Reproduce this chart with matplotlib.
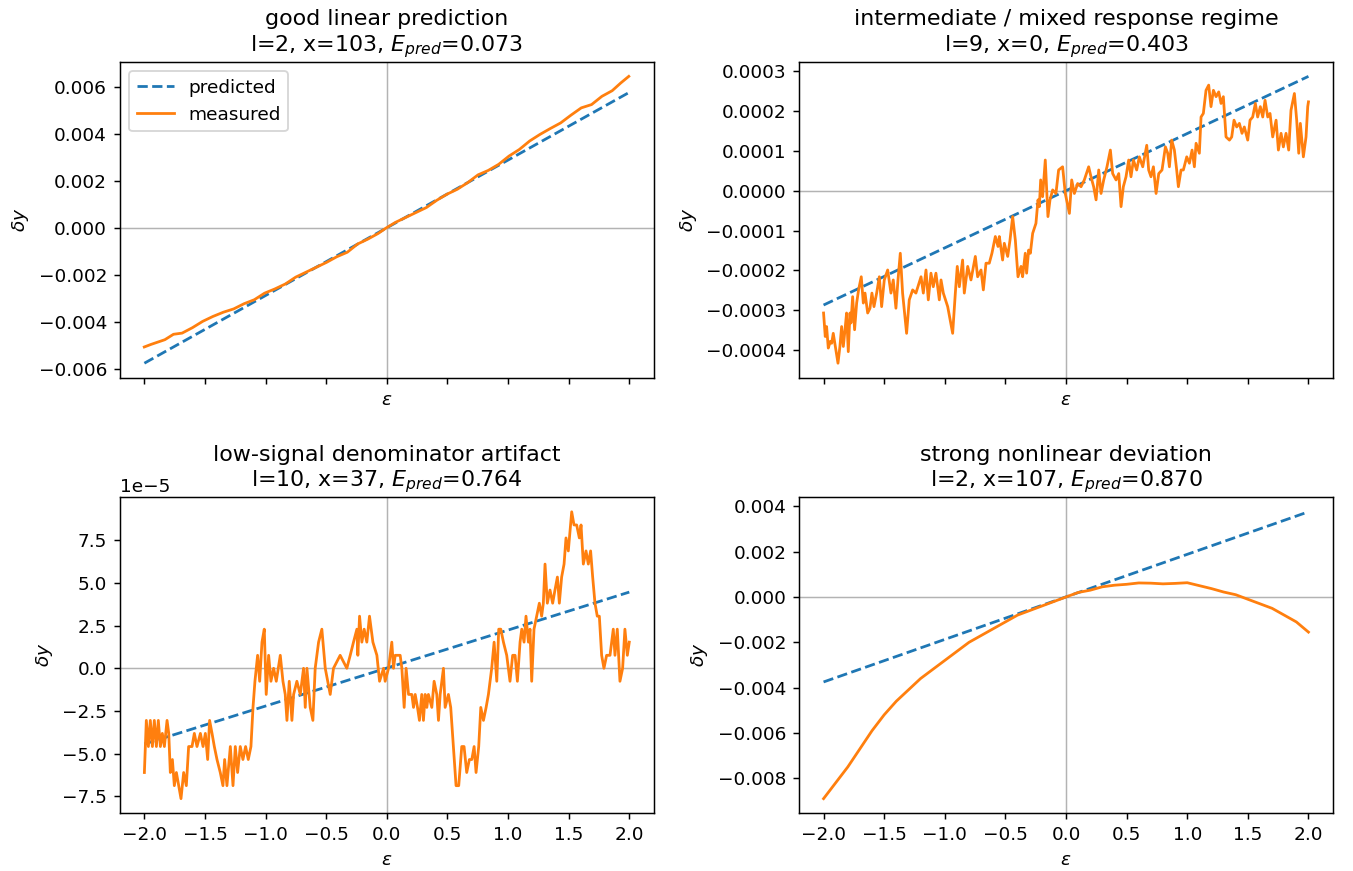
import numpy as np
import matplotlib
matplotlib.use("Agg")
import matplotlib.pyplot as plt

# ---- data ----
titles = [
    "good linear prediction\nl=2, x=103, $E_{pred}$=0.073",
    "intermediate / mixed response regime\nl=9, x=0, $E_{pred}$=0.403",
    "low-signal denominator artifact\nl=10, x=37, $E_{pred}$=0.764",
    "strong nonlinear deviation\nl=2, x=107, $E_{pred}$=0.870",
]

pred_eps = [-2.0, 2.0]
tl_pred = [-0.00576, 0.00576]
tr_pred = [-2.87e-4, 2.87e-4]
bl_pred = [-4.43e-5, 4.46e-5]
br_pred = [-0.00375, 0.00376]

# top-left: good linear
tl_eps = [-2.001, -1.945, -1.888, -1.831, -1.760, -1.689, -1.604, -1.519, -1.434, -1.348,
          -1.263, -1.178, -1.093, -1.008, -0.923, -0.837, -0.752, -0.667, -0.582, -0.497,
          -0.412, -0.326, -0.241, -0.156, -0.071, -0.006, 0.071, 0.156, 0.241, 0.326,
          0.412, 0.497, 0.582, 0.667, 0.752, 0.837, 0.923, 1.008, 1.093, 1.178,
          1.263, 1.348, 1.434, 1.519, 1.604, 1.689, 1.774, 1.859, 1.930, 1.996]
tl_meas = [-0.00507, -0.00496, -0.00486, -0.00476, -0.00453, -0.00448, -0.00425, -0.00398, -0.00377, -0.00359,
           -0.00345, -0.00323, -0.00306, -0.00278, -0.00260, -0.00239, -0.00210, -0.00189, -0.00168, -0.00147,
           -0.00123, -0.00104, -0.00069, -0.00048, -0.00024, -0.00001, 0.00023, 0.00044, 0.00065, 0.00086,
           0.00117, 0.00143, 0.00164, 0.00192, 0.00225, 0.00244, 0.00270, 0.00305, 0.00333, 0.00369,
           0.00397, 0.00422, 0.00446, 0.00479, 0.00510, 0.00524, 0.00559, 0.00583, 0.00616, 0.00644]

# top-right: mixed regime (values in 1e-4)
tr_eps = [-2.000, -1.986, -1.975, -1.961, -1.944, -1.933, -1.920, -1.903, -1.881, -1.865,
          -1.851, -1.837, -1.823, -1.810, -1.796, -1.782, -1.774, -1.760, -1.744, -1.727,
          -1.711, -1.689, -1.672, -1.658, -1.636, -1.617, -1.601, -1.584, -1.562, -1.540,
          -1.521, -1.499, -1.471, -1.444, -1.425, -1.403, -1.386, -1.367, -1.348, -1.315,
          -1.293, -1.265, -1.238, -1.196, -1.177, -1.155, -1.136, -1.114, -1.095, -1.073,
          -1.045, -1.031, -1.012, -0.976, -0.935, -0.913, -0.897, -0.880, -0.853, -0.839,
          -0.811, -0.784, -0.748, -0.729, -0.701, -0.682, -0.660, -0.633, -0.611, -0.583,
          -0.561, -0.550, -0.523, -0.509, -0.481, -0.462, -0.440, -0.418, -0.396, -0.371,
          -0.358, -0.336, -0.325, -0.308, -0.294, -0.275, -0.248, -0.231, -0.220, -0.209,
          -0.193, -0.171, -0.149, -0.132, -0.110, -0.083, -0.061,
          -0.028, -0.006, 0.028, 0.047, 0.069, 0.096, 0.124, 0.151, 0.187, 0.206,
          0.228, 0.248, 0.270, 0.289, 0.311, 0.338, 0.366, 0.385, 0.413, 0.435,
          0.454, 0.473, 0.495, 0.517, 0.536, 0.556, 0.583, 0.605, 0.633, 0.666,
          0.682, 0.701, 0.721, 0.743, 0.765, 0.792, 0.820, 0.839, 0.853, 0.872,
          0.894, 0.913, 0.927, 0.949, 0.968, 0.996, 1.018, 1.040, 1.059, 1.073,
          1.100, 1.114, 1.133, 1.155, 1.177, 1.196, 1.216, 1.238, 1.260, 1.279,
          1.298, 1.320, 1.348, 1.367, 1.386, 1.408, 1.430, 1.452, 1.471, 1.499,
          1.518, 1.540, 1.562, 1.581, 1.603, 1.623, 1.642, 1.664, 1.683, 1.705,
          1.733, 1.752, 1.774, 1.793, 1.815, 1.837, 1.856, 1.884, 1.903, 1.920,
          1.933, 1.958, 1.980, 1.994, 2.000]
tr_meas_e4 = [-3.07, -3.66, -3.41, -3.95, -3.78, -3.83, -3.58, -3.91, -4.33, -3.91,
              -3.41, -3.91, -3.49, -3.07, -4.04, -3.07, -3.32, -2.66, -3.49, -2.82,
              -2.49, -2.16, -2.82, -2.57, -3.07, -2.95, -2.57, -2.91, -2.57, -2.16,
              -2.91, -2.24, -1.99, -2.57, -2.24, -2.95, -2.24, -1.57, -2.57, -3.58,
              -2.74, -2.49, -2.57, -2.16, -2.57, -1.99, -2.74, -2.07, -2.41, -2.07,
              -2.74, -2.24, -2.57, -2.91, -3.58, -2.57, -1.90, -2.41, -1.74, -2.57,
              -1.90, -2.24, -1.65, -2.16, -1.99, -2.49, -1.82, -1.82, -1.57, -1.15,
              -1.40, -1.15, -1.74, -1.32, -1.65, -1.24, -0.65, -1.24, -2.16, -1.90,
              -2.16, -1.57, -2.07, -1.49, -1.57, -1.07, -0.82, -0.23, -0.40, 0.27,
              -0.15, 0.77, -0.65, -0.23, 0.02, -0.07, 0.52,
              0.60, -0.07, -0.57, 0.27, -0.07, 0.18, 0.10, 0.27, 0.60, 0.35,
              0.10, -0.23, 0.52, -0.07, 0.27, 0.60, 1.02, 0.43, 0.27, 0.43,
              -0.40, 0.10, 0.35, 0.77, 0.35, 0.77, 0.52, 0.85, 0.60, 1.14,
              0.52, 0.35, 0.60, -0.07, 0.43, 0.52, 1.10, 0.94, 0.60, 1.27,
              1.02, 0.52, 0.10, 0.52, 0.52, 0.85, 0.69, 1.02, 0.60, 1.19,
              0.94, 1.85, 1.94, 2.52, 2.65, 2.11, 2.52, 2.36, 2.48, 2.19,
              2.36, 1.35, 1.27, 1.35, 1.77, 1.60, 1.69, 1.44, 1.60, 1.27,
              1.77, 1.85, 2.19, 1.85, 2.11, 1.85, 2.27, 1.85, 1.94, 1.35,
              1.77, 1.02, 1.44, 1.10, 1.44, 1.02, 2.02, 2.44, 1.77, 0.94,
              1.69, 0.85, 1.35, 2.11, 2.23]

# bottom-left: low-signal (values in 1e-5)
bl_eps = [-2.000, -1.984, -1.967, -1.951, -1.934, -1.918, -1.901, -1.885, -1.868, -1.852,
          -1.835, -1.813, -1.799, -1.786, -1.769, -1.753, -1.736, -1.717, -1.698, -1.676,
          -1.654, -1.635, -1.607, -1.588, -1.566, -1.538, -1.516, -1.497, -1.478, -1.462,
          -1.442, -1.423, -1.401, -1.374, -1.352, -1.338, -1.319, -1.291, -1.269, -1.250,
          -1.231, -1.209, -1.187, -1.165, -1.143, -1.121, -1.104, -1.088, -1.066, -1.049,
          -1.030, -1.011, -0.995, -0.975, -0.956, -0.934, -0.912, -0.879, -0.857, -0.838,
          -0.824, -0.805, -0.783, -0.769, -0.742, -0.714, -0.687, -0.673, -0.659, -0.632,
          -0.610, -0.591, -0.563, -0.536, -0.508, -0.467, -0.440, -0.385, -0.330, -0.302,
          -0.275, -0.247, -0.239, -0.225, -0.206, -0.187, -0.165, -0.143, -0.115, -0.082,
          -0.060, -0.027, -0.014, 0.014, 0.041, 0.055, 0.069, 0.110, 0.124, 0.143,
          0.159, 0.179, 0.206, 0.220, 0.234, 0.253, 0.269, 0.288, 0.302, 0.316,
          0.330, 0.343, 0.371, 0.390, 0.412, 0.426, 0.440, 0.467, 0.481, 0.508,
          0.527, 0.549, 0.571, 0.593, 0.618, 0.637, 0.659, 0.681, 0.701, 0.720,
          0.736, 0.758, 0.775, 0.797, 0.819, 0.838, 0.865, 0.885, 0.907, 0.923,
          0.940, 0.962, 0.989, 1.016, 1.038, 1.058, 1.077, 1.099, 1.113, 1.132,
          1.148, 1.168, 1.181, 1.195, 1.214, 1.236, 1.258, 1.277, 1.291, 1.305,
          1.324, 1.346, 1.368, 1.387, 1.407, 1.423, 1.442, 1.462, 1.478, 1.497,
          1.525, 1.544, 1.566, 1.588, 1.602, 1.621, 1.643, 1.662, 1.681, 1.698,
          1.717, 1.736, 1.753, 1.772, 1.791, 1.813, 1.841, 1.868, 1.882, 1.901,
          1.923, 1.945, 1.964, 1.984, 2.000]
bl_meas_e5 = [-6.10, -3.05, -4.58, -3.05, -4.58, -3.05, -4.58, -3.05, -4.58, -3.81,
              -4.58, -3.05, -3.81, -6.10, -5.34, -6.87, -6.10, -6.87, -7.63, -6.10,
              -6.87, -4.58, -4.58, -3.81, -4.58, -3.81, -4.58, -3.81, -5.34, -3.05,
              -3.81, -4.58, -5.34, -6.10, -6.87, -5.34, -6.87, -4.58, -6.87, -4.58,
              -6.10, -4.58, -5.34, -4.58, -5.34, -4.58, -2.29, -0.76, 0.76, -0.76,
              1.53, 2.29, -1.53, 0.76, -0.76, 0.00, -0.76, 0.76, -0.76, -1.53,
              -3.05, -0.76, -3.05, -1.53, -0.76, -1.53, 0.00, -2.29, 0.00, -2.29,
              -3.05, 0.00, 1.53, 2.29, 0.00, -1.53, 0.00, 0.76, 0.00, 0.76,
              1.53, 2.29, 0.76, 3.05, 1.53, 2.29, 1.53, 3.05, 1.53, 0.76,
              -0.76, 0.00, -0.76, 0.00, 1.53, 0.00, 0.76, 0.76, 0.00, -2.29,
              0.00, -1.53, -1.53, -2.29, -1.53, -2.29, -3.05, -1.53, -3.05, -1.53,
              -2.29, -1.53, -2.29, -0.76, -1.53, -3.05, -1.53, 0.00, -2.29, -1.53,
              -2.29, -4.58, -6.87, -6.87, -4.58, -4.58, -6.10, -5.34, -5.34, -4.58,
              -6.10, -4.58, -2.29, -3.05, -2.29, -1.53, 0.00, 1.53, -0.76, 2.29,
              2.29, 1.53, 0.76, -0.76, 0.76, 0.76, -0.76, 1.53, 2.29, 1.53,
              3.05, 1.53, 2.29, -0.76, 2.29, 3.05, 3.81, 3.05, 3.81, 6.10,
              3.81, 4.58, 3.81, 4.58, 5.34, 3.81, 5.34, 6.10, 7.63, 6.87,
              9.16, 8.39, 8.39, 7.63, 8.39, 6.10, 6.87, 6.10, 6.87, 5.34,
              3.81, 3.05, 3.05, 0.76, 0.00, 0.76, 0.76, 2.29, 0.76, 2.29,
              -0.76, 0.00, 2.29, 0.76, 1.53]

# bottom-right: strong nonlinear
br_eps = [-2.0, -1.9, -1.8, -1.7, -1.6, -1.5, -1.4, -1.3, -1.2, -1.1,
          -1.0, -0.9, -0.8, -0.7, -0.6, -0.5, -0.4, -0.3, -0.2, -0.1,
          0.0, 0.1, 0.2, 0.3, 0.4, 0.5, 0.6, 0.7, 0.8, 0.9,
          1.0, 1.1, 1.2, 1.3, 1.4, 1.5, 1.6, 1.7, 1.8, 1.9, 2.0]
br_meas = [-0.0089, -0.0082, -0.0075, -0.0067, -0.0059, -0.0052, -0.0046, -0.0041, -0.0036, -0.0032,
           -0.0028, -0.0024, -0.0020, -0.0017, -0.0014, -0.0011, -0.0008, -0.0006, -0.0004, -0.0002,
           0.0000, 0.0002, 0.0003, 0.00045, 0.00052, 0.00056, 0.00062, 0.00061, 0.00058, 0.00060,
           0.00063, 0.00050, 0.00037, 0.00022, 0.00010, -0.00010, -0.00030, -0.00050, -0.00080, -0.00110,
           -0.00155]

series = [
    (tl_eps, np.array(tl_meas), tl_pred),
    (tr_eps, np.array(tr_meas_e4) * 1e-4, tr_pred),
    (bl_eps, np.array(bl_meas_e5) * 1e-5, bl_pred),
    (br_eps, np.array(br_meas), br_pred),
]

fig, axes = plt.subplots(2, 2, figsize=(1353 / 133, 871 / 133), dpi=133, sharex=True)
fig.subplots_adjust(left=0.0887, right=0.985, top=0.9288, bottom=0.0666,
                    wspace=0.273, hspace=0.38)

for ax, title, (eps, meas, pred) in zip(axes.flat, titles, series):
    ax.axhline(0, color="0.7", lw=0.8)
    ax.axvline(0, color="0.7", lw=0.8)
    ax.plot(pred_eps, pred, "--", color="C0", label="predicted")
    ax.plot(eps, meas, color="C1", label="measured")
    ax.set_title(title)
    ax.set_xlabel(r"$\varepsilon$")
    ax.set_ylabel(r"$\delta y$")
    ax.xaxis.set_tick_params(labelbottom=False)

for ax in axes[1]:
    ax.xaxis.set_tick_params(labelbottom=True)

axes[0, 0].legend(loc="upper left")

fig.savefig("out.png", dpi=133)
